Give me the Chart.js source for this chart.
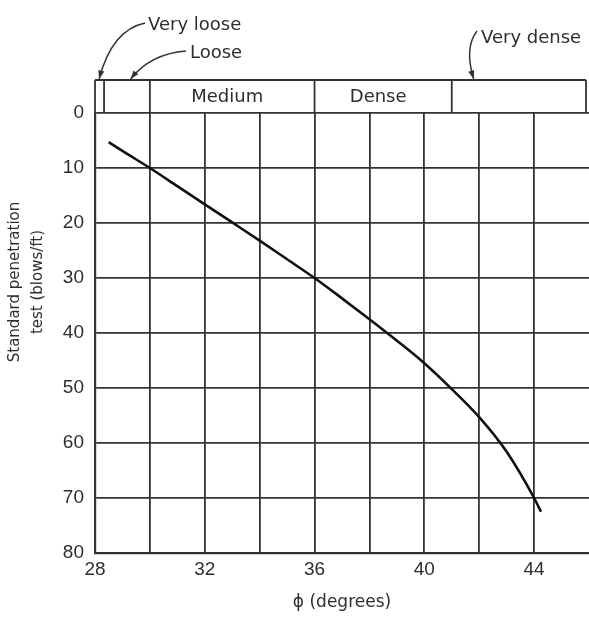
<!DOCTYPE html>
<html>
<head>
<meta charset="utf-8">
<script src="https://cdn.jsdelivr.net/npm/chart.js@4.4.1/dist/chart.umd.min.js"></script>
<style>
  body { margin: 0; background: #fff; }
</style>
</head>
<body>
<canvas id="sptChart" width="589" height="618"></canvas>
<script>
// friction angle (degrees) vs SPT blow count
const phi = [28.5, 29, 30, 31, 32, 33, 34, 35, 36, 37, 38, 39, 40, 41, 42, 43, 44, 44.25];
const blows = [5.3, 6.9, 10, 13.3, 16.6, 19.9, 23.2, 26.6, 30, 33.7, 37.5, 41.4, 45.5, 50.2, 55.3, 61.6, 70, 72.5];

// density zones along the phi axis
const zoneEdges = [28, 28.33, 30, 36, 41, 46];
const zoneNames = ["Very loose", "Loose", "Medium", "Dense", "Very dense"];

const xTicks = [28, 32, 36, 40, 44];
const yTicks = [0, 10, 20, 30, 40, 50, 60, 70, 80];

const ink = "#333";
const textInk = "#2e2e2e";
const labelFont = "18px 'DejaVu Sans', sans-serif";

function arrow(ctx, x0, y0, cx, cy, x1, y1) {
  ctx.beginPath();
  ctx.moveTo(x0, y0);
  ctx.quadraticCurveTo(cx, cy, x1, y1);
  ctx.stroke();
  const a = Math.atan2(y1 - cy, x1 - cx);
  ctx.beginPath();
  ctx.moveTo(x1, y1);
  ctx.lineTo(x1 - 9 * Math.cos(a - 0.35), y1 - 9 * Math.sin(a - 0.35));
  ctx.lineTo(x1 - 9 * Math.cos(a + 0.35), y1 - 9 * Math.sin(a + 0.35));
  ctx.closePath();
  ctx.fill();
}

const decorations = {
  id: "decorations",
  afterDraw(chart) {
    const ctx = chart.ctx;
    const area = chart.chartArea;
    const xs = chart.scales.x;
    ctx.save();
    ctx.strokeStyle = ink;
    ctx.fillStyle = textInk;
    ctx.lineWidth = 1.8;

    // zone band above the plot
    const top = area.top - 33;
    const right = Math.min(area.right, 586);
    ctx.beginPath();
    ctx.moveTo(area.left, top);
    ctx.lineTo(right, top);
    zoneEdges.forEach(v => {
      const px = Math.min(xs.getPixelForValue(v), right);
      ctx.moveTo(px, top);
      ctx.lineTo(px, area.top);
    });
    ctx.stroke();

    ctx.font = labelFont;
    ctx.textAlign = "center";
    ctx.textBaseline = "middle";
    [2, 3].forEach(i => {
      const mid = (xs.getPixelForValue(zoneEdges[i]) + xs.getPixelForValue(zoneEdges[i + 1])) / 2;
      ctx.fillText(zoneNames[i], mid - 5, top + 17);
    });

    // callouts for the narrow zones
    ctx.textAlign = "left";
    ctx.fillText(zoneNames[0], 148, 25);
    ctx.fillText(zoneNames[1], 190, 53);
    ctx.fillText(zoneNames[4], 481, 38);
    ctx.lineWidth = 1.5;
    ctx.fillStyle = ink;
    const vl = xs.getPixelForValue(28.15);
    const lo = xs.getPixelForValue(29.3);
    const vd = xs.getPixelForValue(41.8);
    arrow(ctx, 145, 23, 112, 30, vl, top - 1);
    arrow(ctx, 186, 51, 150, 54, lo, top - 1);
    arrow(ctx, 477, 31, 464, 48, vd, top - 1);

    // axis titles
    ctx.fillStyle = textInk;
    ctx.textAlign = "center";
    ctx.font = "17px 'DejaVu Sans', sans-serif";
    ctx.fillText("\u03d5 (degrees)", (area.left + area.right) / 2, 603);

    ctx.translate(26, 282);
    ctx.rotate(-Math.PI / 2);
    ctx.font = "15px 'DejaVu Sans', sans-serif";
    ctx.fillText("Standard penetration", 0, -11);
    ctx.fillText("test (blows/ft)", 0, 12);
    ctx.restore();
  }
};

new Chart(document.getElementById("sptChart"), {
  type: "line",
  data: {
    datasets: [
      {
        data: phi.map((p, i) => ({ x: p, y: blows[i] })),
        borderColor: "#111",
        borderWidth: 2.6,
        pointRadius: 0,
        cubicInterpolationMode: "monotone",
        fill: false,
      },
    ],
  },
  options: {
    responsive: false,
    animation: false,
    layout: { padding: { top: 113, left: 0, right: 0, bottom: 0 } },
    scales: {
      x: {
        type: "linear",
        min: 28,
        max: 46,
        afterFit: s => {
          s.height = 65;
          s.paddingLeft = 0;
          s.paddingRight = 0;
        },
        ticks: {
          stepSize: 2,
          padding: 5,
          color: textInk,
          font: { family: "'Liberation Sans'", size: 19 },
          callback: v => (xTicks.includes(v) ? v : ""),
        },
        grid: {
          color: c => (c.tick && c.tick.value === 46 ? "rgba(0,0,0,0)" : ink),
          lineWidth: 1.8,
          drawTicks: false,
        },
        border: { color: ink, width: 2.2 },
      },
      y: {
        min: 0,
        max: 80,
        reverse: true,
        afterFit: s => { s.width = 95; },
        ticks: {
          stepSize: 10,
          padding: 11,
          color: textInk,
          font: { family: "'Liberation Sans'", size: 19 },
          callback: v => (yTicks.includes(v) ? v : ""),
        },
        grid: { color: ink, lineWidth: 1.8, drawTicks: false },
        border: { color: ink, width: 2.2 },
      },
    },
    plugins: {
      legend: { display: false },
      tooltip: { enabled: false },
    },
  },
  plugins: [decorations],
});
</script>
</body>
</html>
